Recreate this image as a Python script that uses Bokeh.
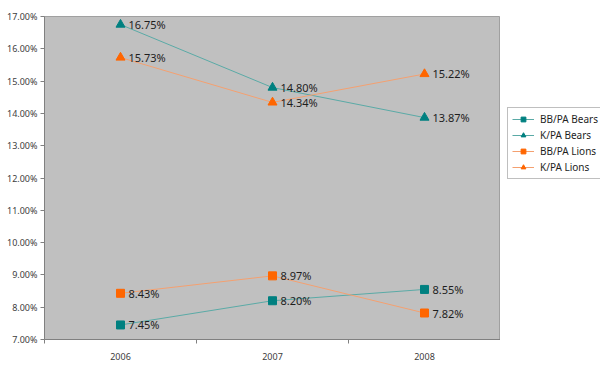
from bokeh.plotting import figure
from bokeh.layouts import row
from bokeh.models import (ColumnDataSource, FixedTicker, NumeralTickFormatter,
                          Legend, LegendItem, Range1d)
from bokeh.core.properties import value
from bokeh.embed import file_html
from bokeh.resources import INLINE

years = ["2006", "2007", "2008"]
bb_bears = [0.0745, 0.0820, 0.0855]
k_bears = [0.1675, 0.1480, 0.1387]
bb_lions = [0.0843, 0.0897, 0.0782]
k_lions = [0.1573, 0.1434, 0.1522]
y_ticks = [0.07, 0.08, 0.09, 0.10, 0.11, 0.12, 0.13, 0.14, 0.15, 0.16, 0.17]

xs = list(range(len(years)))

p = figure(width=500, height=368, output_backend="svg", toolbar_location=None,
           x_range=Range1d(-0.5, len(years) - 0.5), y_range=Range1d(0.07, 0.17),
           min_border_left=44, min_border_top=16, min_border_bottom=29, min_border_right=0)

p.background_fill_color = "#C0C0C0"
p.border_fill_color = "white"
p.outline_line_color = "#A0A0A0"
p.outline_line_width = 1
p.xgrid.visible = False
p.ygrid.visible = False

# axes
p.yaxis.ticker = FixedTicker(ticks=y_ticks)
p.yaxis.formatter = NumeralTickFormatter(format="0.00%")
p.yaxis.minor_tick_line_color = None
p.yaxis.major_tick_in = 0
p.yaxis.major_tick_out = 4
p.yaxis.axis_line_color = "#808080"
p.yaxis.major_tick_line_color = "#808080"
p.yaxis.major_label_text_font = "Noto Sans"
p.yaxis.major_label_text_font_size = "9px"
p.yaxis.major_label_text_color = "#404040"
p.yaxis.major_label_standoff = 3

p.xaxis.ticker = FixedTicker(ticks=xs, minor_ticks=[i - 0.5 for i in range(len(years) + 1)])
p.xaxis.major_label_overrides = {i: y for i, y in enumerate(years)}
p.xaxis.major_tick_in = 0
p.xaxis.major_tick_out = 0
p.xaxis.minor_tick_in = 0
p.xaxis.minor_tick_out = 4
p.xaxis.minor_tick_line_color = "#808080"
p.xaxis.axis_line_color = "#808080"
p.xaxis.major_label_text_font = "Noto Sans"
p.xaxis.major_label_text_font_size = "9px"
p.xaxis.major_label_text_color = "#404040"
p.xaxis.major_label_standoff = 9

teal = "#008080"
teal_line = "#5AAAA6"
orange = "#FF6600"
orange_line = "#F4A070"

series = [
    ("BB/PA Bears", bb_bears, teal, teal_line, "square", 8),
    ("K/PA Bears", k_bears, teal, teal_line, "triangle", 9),
    ("BB/PA Lions", bb_lions, orange, orange_line, "square", 8),
    ("K/PA Lions", k_lions, orange, orange_line, "triangle", 9),
]

# legend-only figure to the right of the plot
lg = figure(width=100, height=368, output_backend="svg", toolbar_location=None,
            x_range=Range1d(100, 101), y_range=Range1d(100, 101),
            min_border_left=0, min_border_right=0, min_border_top=0, min_border_bottom=0)
lg.axis.visible = False
lg.xgrid.visible = False
lg.ygrid.visible = False
lg.outline_line_color = None
lg.background_fill_color = "white"
lg.border_fill_color = "white"

items = []
for name, vals, mc, lc, marker, size in series:
    src = ColumnDataSource(dict(x=xs, y=vals, lab=["%.2f%%" % (v * 100) for v in vals]))
    p.line("x", "y", source=src, line_color=lc, line_width=1)
    p.scatter("x", "y", source=src, marker=marker, size=size,
              fill_color=mc, line_color=mc)
    p.text("x", "y", text="lab", source=src, x_offset=8, text_baseline="middle",
           text_align="left", text_font=value("Noto Sans"), text_font_size="11px",
           text_color="#1E1E1E")
    l1 = lg.line("x", "y", source=src, line_color=lc, line_width=1)
    l2 = lg.scatter("x", "y", source=src, marker=marker, size=size,
                    fill_color=mc, line_color=mc)
    items.append(LegendItem(label=name, renderers=[l1, l2]))

legend = Legend(items=items, location=(7, 160))
legend.label_text_font = "Noto Sans"
legend.label_text_font_size = "10px"
legend.label_text_color = "#1E1E1E"
legend.glyph_width = 22
legend.glyph_height = 12
legend.label_standoff = 6
legend.label_height = 12
legend.spacing = 2
legend.padding = 4
legend.margin = 0
legend.border_line_color = "#808080"
legend.border_line_width = 1
legend.background_fill_color = "white"
legend.background_fill_alpha = 1
lg.add_layout(legend, "center")

layout = row(p, lg)
open("out.html", "w").write(file_html(layout, INLINE))
